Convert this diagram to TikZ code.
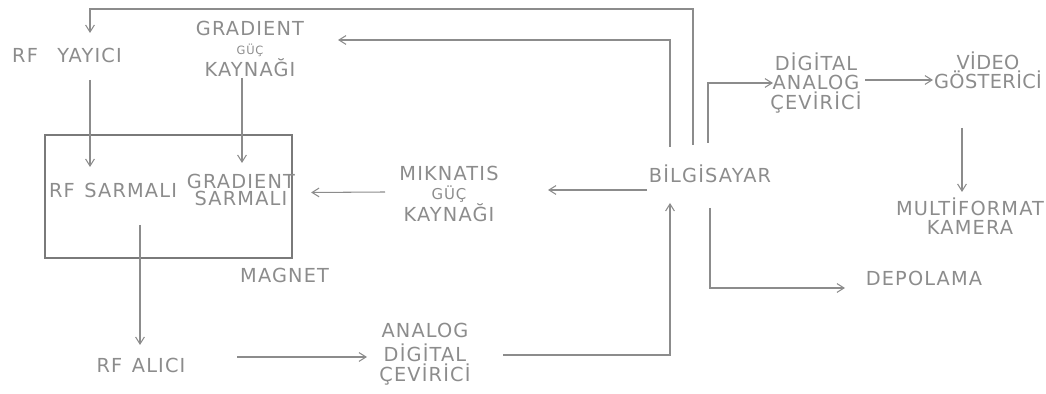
\documentclass[tikz,border=0pt]{standalone}
\usepackage{fontspec}
\setmainfont[LetterSpace=6]{DejaVu Sans}
\usepackage{xcolor}
\usetikzlibrary{arrows.meta,positioning,calc}
\definecolor{Pencil}{HTML}{8C8C8C}
\definecolor{Lead}{HTML}{7A7A7A}

\begin{document}
\begin{tikzpicture}[x=0.02cm, y=-0.02cm, font=\fontsize{11}{11}\selectfont, >={Straight Barb[length=4pt,width=5pt]}]
\tikzset{lbl/.style={text=Pencil, align=center, inner sep=1pt}, wire/.style={->, draw=Pencil, line width=0.6pt}, magnetbox/.style={draw=Lead, line width=1.3pt, minimum width=4.94cm, minimum height=2.46cm, inner sep=0pt}}
\useasboundingbox (0,0) rectangle (1046,394);
% magnet and its coils
\node[magnetbox] (box) at (168.5,196.5) {};
\node[lbl] (rfsar) at (113,190) {RF\enspace SARMALI};
\node[lbl] (gsar) at (241,190) {GRADIENT\\[-1pt]SARMALI};
\node[lbl, below left=0.14cm and -0.76cm of box.south east] (magnet) {MAGNET};
% sources
\node[lbl] (yayici) at (67,55) {RF\quad YAYICI};
\node[lbl] (ggk) at (250,49) {GRADIENT\\{\fontsize{6.5}{7}\selectfont GÜÇ}\\KAYNAĞI};
\node[lbl] (mgk) at (449,194) {MIKNATIS\\{\fontsize{8.5}{9}\selectfont GÜÇ}\\KAYNAĞI};
\node[lbl] (rfalici) at (141,365) {RF\enspace ALICI};
\node[lbl] (adc) at (425,354) {ANALOG\\[3pt]DİGİTAL\\ÇEVİRİCİ};
% computer side
\node[lbl] (bilg) at (710,174) {BİLGİSAYAR};
\node[lbl] (dac) at (816,83) {DİGİTAL\\ANALOG\\ÇEVİRİCİ};
\node[lbl, font=\fontsize{11}{11}\selectfont\addfontfeatures{LetterSpace=2}] (video) at (988,70) {VİDEO\\GÖSTERİCİ};
\node[lbl] (kamera) at (970,216) {MULTİFORMAT\\KAMERA};
\node[lbl] (depo) at (924,278) {DEPOLAMA};
% connectors
\draw[wire] ($(bilg)+(-17,-29)$) |- ($(yayici)+(23,-46)$) -- ($(yayici)+(23,-22)$);
\draw[wire] ($(bilg)+(-40,-27)$) |- ($(ggk)+(88,-9)$);
\draw[wire] ($(yayici)+(23,25)$) -- ($(rfsar)+(-23,-23)$);
\draw[wire] ($(ggk)+(-8,29)$) -- ($(gsar)+(1,-27)$);
\draw[wire] ($(mgk)+(-64,-2)$) -- ($(box.east)+(18,-4)$);
\draw[wire] ($(bilg)+(-63,16)$) -- ($(mgk)+(99,-4)$);
\draw[wire] ($(rfsar)+(27,35)$) -- ($(rfalici)+(-1,-20)$);
\draw[wire] ($(rfalici)+(96,-8)$) -- ($(adc)+(-58,3)$);
\draw[wire] ($(adc)+(78,1)$) -| ($(bilg)+(-40,29)$);
\draw[wire] ($(bilg)+(-2,-31)$) |- ($(dac)+(-43,0)$);
\draw[wire] ($(dac)+(49,-3)$) -- ($(video)+(-55,10)$);
\draw[wire] ($(video)+(-26,58)$) -- ($(kamera)+(-8,-24)$);
\draw[wire] ($(bilg)+(0,34)$) |- ($(depo)+(-79,10)$);
\end{tikzpicture}
\end{document}
